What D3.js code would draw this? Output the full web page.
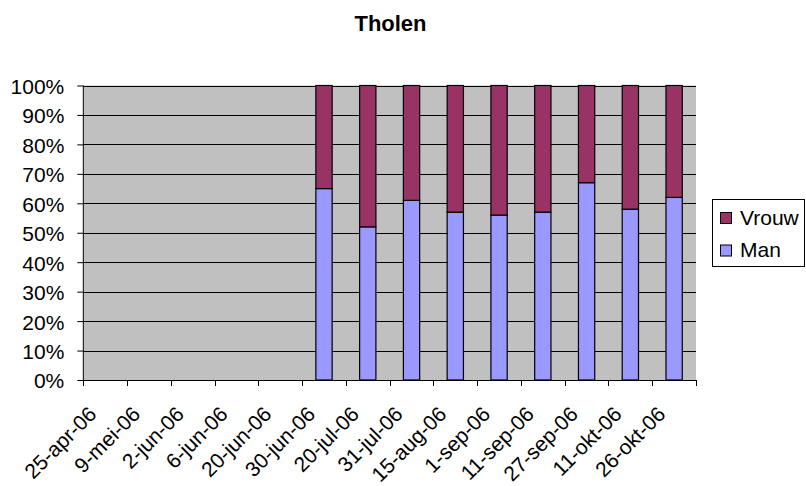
<!DOCTYPE html>
<html>
<head>
<meta charset="utf-8">
<script src="https://cdn.jsdelivr.net/npm/d3@7/dist/d3.min.js"></script>
<style>
  html, body { margin: 0; padding: 0; background: #fff; }
  svg text { font-family: "Liberation Sans", Arial, sans-serif; fill: #000; }
</style>
</head>
<body>
<svg id="chart" width="806" height="486"></svg>
<script>
const title = "Tholen";
const categories = ["25-apr-06","9-mei-06","2-jun-06","6-jun-06","20-jun-06","30-jun-06","20-jul-06","31-jul-06","15-aug-06","1-sep-06","11-sep-06","27-sep-06","11-okt-06","26-okt-06"];
const man   = [null,null,null,null,null,65,52,61,57,56,57,67,58,62];
const vrouw = [null,null,null,null,null,35,48,39,43,44,43,33,42,38];
const seriesNames = ["Man","Vrouw"];
const seriesColors = ["#9999FF","#993366"];
const yTicks = [0,10,20,30,40,50,60,70,80,90,100];

const svg = d3.select("#chart");
const m = {left: 83.3, right: 696, top: 85.5, bottom: 380};

const x = d3.scaleBand().domain(categories).range([m.left, m.right]).paddingInner(0).paddingOuter(0);
const y = d3.scaleLinear().domain([0, 100]).range([m.bottom, m.top]);

// plot area
svg.append("rect").attr("x", m.left).attr("y", m.top)
  .attr("width", m.right - m.left).attr("height", m.bottom - m.top)
  .attr("fill", "#C0C0C0");

// gridlines
svg.append("g").selectAll("line").data(yTicks.filter(d => d > 0)).join("line")
  .attr("x1", m.left).attr("x2", m.right)
  .attr("y1", d => Math.round(y(d)) + 0.5).attr("y2", d => Math.round(y(d)) + 0.5)
  .attr("stroke", "#000").attr("stroke-width", 1);

// data table
const rows = categories.map((c, i) => ({cat: c, Man: man[i], Vrouw: vrouw[i]}));
const stack = d3.stack().keys(seriesNames).value((d, k) => d[k] == null ? 0 : d[k])
  .offset(d3.stackOffsetExpand);
const layers = stack(rows);

const barW = x.bandwidth() * 0.372;
layers.forEach((layer, li) => {
  svg.append("g").selectAll("rect")
    .data(layer.filter(d => d.data.Man != null))
    .join("rect")
    .attr("x", d => x(d.data.cat) + (x.bandwidth() - barW) / 2)
    .attr("y", d => y(d[1] * 100))
    .attr("width", barW)
    .attr("height", d => y(d[0] * 100) - y(d[1] * 100))
    .attr("fill", seriesColors[li])
    .attr("stroke", "#000").attr("stroke-width", 1.2);
});

// y axis
const yAxis = d3.axisLeft(y).tickValues(yTicks).tickFormat(d => d + "%").tickSize(6).tickPadding(13);
const gy = svg.append("g").attr("transform", `translate(${m.left},0)`).call(yAxis);
gy.select(".domain").attr("stroke", "#000").attr("d", `M0,${m.top}V${m.bottom}`);
gy.selectAll(".tick line").attr("stroke", "#000");
gy.selectAll(".tick text").attr("font-size", 21).attr("dy", "0.38em")
  .style("font-family", "'Liberation Sans', Arial, sans-serif");

// x axis line and ticks at category boundaries
const bounds = categories.map(c => x(c)).concat([m.right]);
svg.append("line").attr("x1", m.left).attr("x2", m.right)
  .attr("y1", m.bottom + 0.5).attr("y2", m.bottom + 0.5).attr("stroke", "#000");
svg.append("g").selectAll("line").data(bounds).join("line")
  .attr("x1", d => Math.round(d) + 0.5).attr("x2", d => Math.round(d) + 0.5)
  .attr("y1", m.bottom).attr("y2", m.bottom + 6).attr("stroke", "#000");

// x labels rotated
svg.append("g").selectAll("text").data(categories).join("text")
  .attr("transform", d => `translate(${x(d) + x.bandwidth() / 2 - 18},${m.bottom + 25}) rotate(-45)`)
  .attr("text-anchor", "end").attr("dy", "0.71em")
  .attr("font-size", 21)
  .text(d => d);

// title
svg.append("text").attr("x", 390.5).attr("y", 31).attr("text-anchor", "middle")
  .attr("font-size", 22).attr("font-weight", "bold").text(title);

// legend
const lg = svg.append("g");
lg.append("rect").attr("x", 712.5).attr("y", 199.5).attr("width", 92).attr("height", 67)
  .attr("fill", "#fff").attr("stroke", "#000").attr("stroke-width", 1);
const legendItems = [{name: "Vrouw", color: seriesColors[1]}, {name: "Man", color: seriesColors[0]}];
legendItems.forEach((it, i) => {
  const yy = 212 + i * 32.5;
  lg.append("rect").attr("x", 720.5).attr("y", yy + 0.5).attr("width", 11).attr("height", 11)
    .attr("fill", it.color).attr("stroke", "#000").attr("stroke-width", 1);
  lg.append("text").attr("x", 740).attr("y", yy + 12.5).attr("font-size", 21).text(it.name);
});
</script>
</body>
</html>
